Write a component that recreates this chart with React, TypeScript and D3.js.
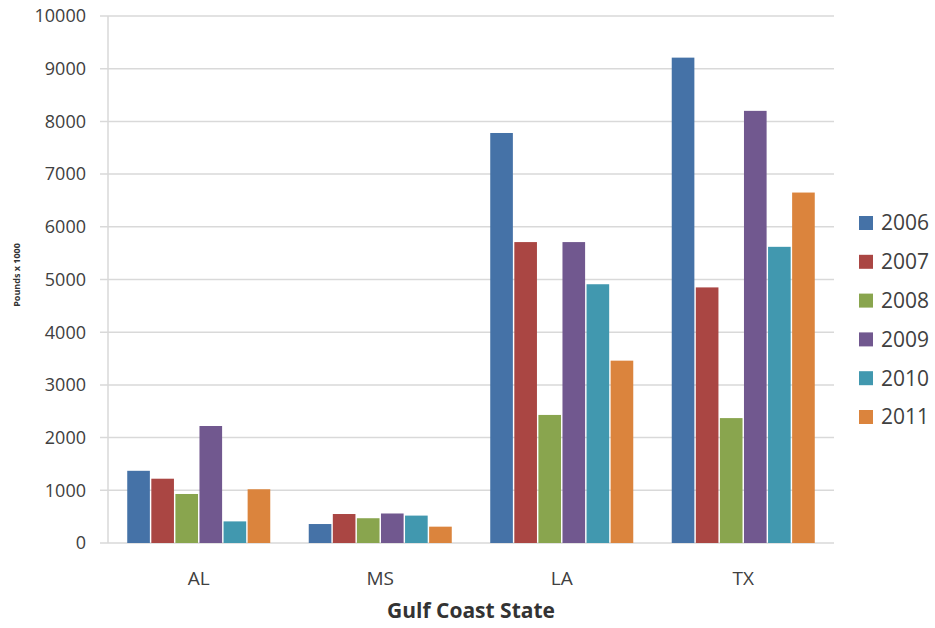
import React from "react";
import * as d3 from "d3";

const states = ["AL", "MS", "LA", "TX"];
const years = ["2006", "2007", "2008", "2009", "2010", "2011"];
const v2006 = [1370, 360, 7780, 9210];
const v2007 = [1220, 550, 5710, 4850];
const v2008 = [930, 470, 2430, 2370];
const v2009 = [2220, 560, 5710, 8200];
const v2010 = [410, 520, 4910, 5620];
const v2011 = [1020, 310, 3460, 6650];
const seriesValues = [v2006, v2007, v2008, v2009, v2010, v2011];
const colors = ["#4572A7", "#AA4643", "#89A54E", "#71588F", "#4198AF", "#DB843D"];
const yTicks = [0, 1000, 2000, 3000, 4000, 5000, 6000, 7000, 8000, 9000, 10000];

const W = 935;
const H = 628;
const left = 108;
const right = 834;
const top = 16;
const bottom = 543;
const font = "'Open Sans', 'Liberation Sans', sans-serif";

export default function App() {
  const x0 = d3.scaleBand<string>().domain(states).range([left, right]).paddingInner(0.212).paddingOuter(0.106);
  const x1 = d3.scaleBand<string>().domain(years).range([0, x0.bandwidth()]).paddingInner(0.06);
  const y = d3.scaleLinear().domain([0, 10000]).range([bottom, top]);

  return (
    <svg width={W} height={H} style={{ position: "absolute", left: 0, top: 0, background: "#fff" }} fontFamily={font}>
      {yTicks.map((t) => (
        <g key={t}>
          <line x1={left - 8} x2={right} y1={y(t)} y2={y(t)} stroke="#d9d9d9" strokeWidth={1.5} />
          <text x={86} y={y(t)} dy="0.35em" textAnchor="end" fontSize={18} fill="#404040">
            {t}
          </text>
        </g>
      ))}
      <line x1={left} x2={left} y1={top} y2={bottom} stroke="#d9d9d9" strokeWidth={1.5} />
      {states.map((s, i) => (
        <g key={s} transform={`translate(${x0(s)},0)`}>
          {years.map((yr, j) => (
            <rect
              key={yr}
              x={x1(yr)}
              y={y(seriesValues[j][i])}
              width={x1.bandwidth()}
              height={bottom - y(seriesValues[j][i])}
              fill={colors[j]}
            />
          ))}
        </g>
      ))}
      {states.map((s) => (
        <text key={s} x={(x0(s) as number) + x0.bandwidth() / 2} y={578} dy="0.35em" textAnchor="middle" fontSize={19} fill="#404040">
          {s}
        </text>
      ))}
      <text x={471} y={611} dy="0.35em" textAnchor="middle" fontSize={21} fontWeight="bold" fill="#333">
        Gulf Coast State
      </text>
      <text transform={`translate(17,275) rotate(-90)`} textAnchor="middle" dy="0.35em" fontSize={9} fontWeight="bold" fill="#333">
        Pounds x 1000
      </text>
      {years.map((yr, j) => (
        <g key={yr} transform={`translate(859,${223 + j * 38.8})`}>
          <rect x={0} y={-7} width={14} height={14} fill={colors[j]} />
          <text x={22} y={0} dy="0.35em" fontSize={21} fill="#404040">
            {yr}
          </text>
        </g>
      ))}
    </svg>
  );
}
